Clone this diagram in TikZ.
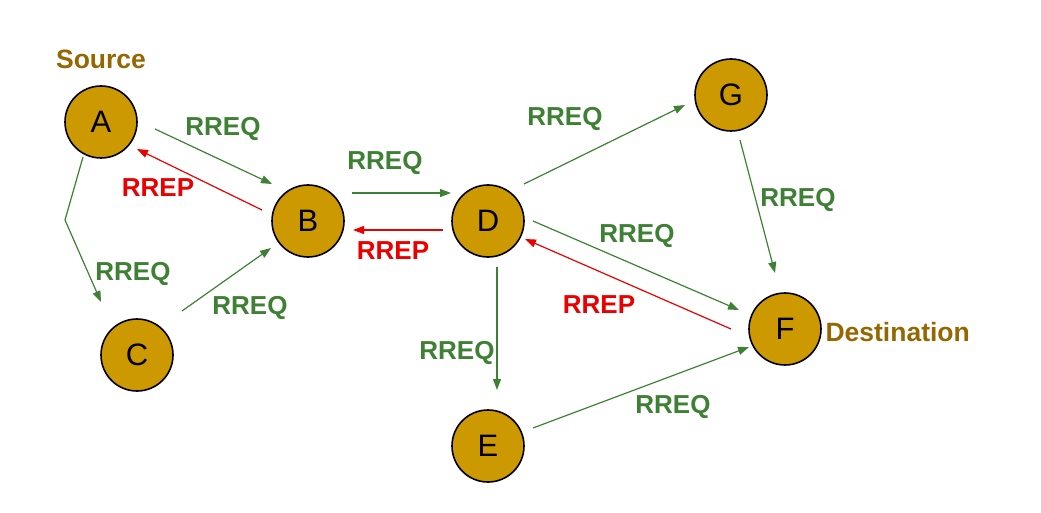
\documentclass[tikz,border=0pt]{standalone}
\usepackage{fontspec}
\setmainfont{Liberation Sans}
\usetikzlibrary{arrows.meta}

\definecolor{hostgold}{RGB}{204,153,0}
\definecolor{reqgreen}{RGB}{62,128,52}
\definecolor{repred}{RGB}{235,0,0}
\definecolor{tagbrown}{RGB}{150,102,0}

\begin{document}
\begin{tikzpicture}[x=1pt, y=-1pt,
    host/.style={circle, draw, line width=1.6pt, fill=hostgold, minimum size=72pt, inner sep=0pt, font=\fontsize{31}{33}\selectfont},
    req/.style={color=reqgreen, line width=1.2pt, -{Triangle[length=11pt,width=8pt]}},
    rep/.style={color=repred, line width=1.2pt, -{Triangle[length=11pt,width=8pt]}},
    reqtext/.style={text=reqgreen, text depth=0pt, font=\fontsize{26}{28}\selectfont\bfseries},
    reptext/.style={text=repred, text depth=0pt, font=\fontsize{26}{28}\selectfont\bfseries},
    tag/.style={text=tagbrown, font=\fontsize{26.5}{28}\selectfont\bfseries}]
        \useasboundingbox (0,0) rectangle (1041,513);

        % Hosts
        \node[host] (A) at (101,122) {A};
        \node[host] (B) at (308,221) {B};
        \node[host] (C) at (137,355) {C};
        \node[host] (D) at (488,221) {D};
        \node[host] (E) at (488,446) {E};
        \node[host] (F) at (785,329) {F};
        \node[host] (G) at (731,95) {G};

        % Roles
        \node[tag] (src) at (101,59) {Source};
        \node[tag, anchor=west] (dst) at (822,332) {Destination};

        % Labels
        \node[reqtext] (reqab) at (223,126) {RREQ};
        \node[reptext] (repba) at (158,188) {RREP};
        \node[reqtext] (reqac) at (133,271) {RREQ};
        \node[reqtext] (reqcb) at (250,305) {RREQ};
        \node[reqtext] (reqbd) at (385,160) {RREQ};
        \node[reptext] (repdb) at (393,251) {RREP};
        \node[reqtext] (reqdg) at (565,116) {RREQ};
        \node[reqtext] (reqgf) at (798,197) {RREQ};
        \node[reqtext] (reqdf) at (637,233) {RREQ};
        \node[reptext] (repfd) at (599,305) {RREP};
        \node[reqtext] (reqde) at (457,350) {RREQ};
        \node[reqtext] (reqef) at (673,404) {RREQ};

        % Connections
        \coordinate (bend) at (65,220);
        \draw[req] ([shift={(54,7)}]A.center) -- ([shift={(-36,-37)}]B.center);
        \draw[rep] ([shift={(-46,-11)}]B.center) -- ([shift={(36,27)}]A.center);
        \draw[req] ([shift={(-18,35)}]A.center) -- (bend) -- ([shift={(-36,-53)}]C.center);
        \draw[req] ([shift={(45,-44)}]C.center) -- ([shift={(-37,27)}]B.center);
        \draw[req] ([shift={(44,-28)}]B.center) -- ([shift={(-37,-28)}]D.center);
        \draw[rep] ([shift={(-45,9)}]D.center) -- ([shift={(45,9)}]B.center);
        \draw[req] ([shift={(36,-37)}]D.center) -- ([shift={(-46,10)}]G.center);
        \draw[req] ([shift={(45,0)}]D.center) -- ([shift={(-46,-19)}]F.center);
        \draw[rep] ([shift={(-54,0)}]F.center) -- ([shift={(37,18)}]D.center);
        \draw[req] ([shift={(9,46)}]D.center) -- ([shift={(9,-56)}]E.center);
        \draw[req] ([shift={(45,-18)}]E.center) -- ([shift={(-36,18)}]F.center);
        \draw[req] ([shift={(9,45)}]G.center) -- ([shift={(-10,-56)}]F.center);
\end{tikzpicture}
\end{document}
